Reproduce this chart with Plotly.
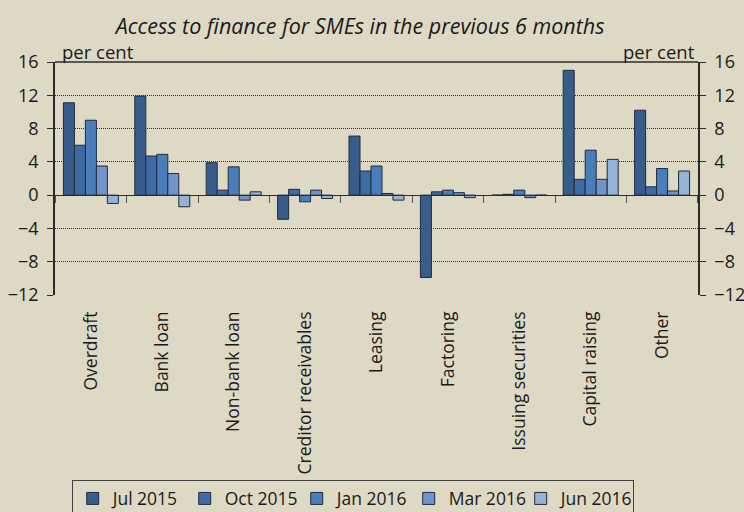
import plotly.graph_objects as go

# survey categories and net balances (per cent)
categories = [
    "Overdraft", "Bank loan", "Non-bank loan", "Creditor receivables", "Leasing",
    "Factoring", "Issuing securities", "Capital raising", "Other",
]
periods = ["Jul 2015", "Oct 2015", "Jan 2016", "Mar 2016", "Jun 2016"]

jul_2015 = [11.1, 11.9, 3.9, -2.9, 7.1, -9.9, 0.0, 15.0, 10.2]
oct_2015 = [6.0, 4.7, 0.6, 0.7, 2.9, 0.4, 0.1, 1.9, 1.0]
jan_2016 = [9.0, 4.9, 3.4, -0.8, 3.5, 0.6, 0.6, 5.4, 3.2]
mar_2016 = [3.5, 2.6, -0.6, 0.6, 0.2, 0.3, -0.3, 1.9, 0.5]
jun_2016 = [-1.0, -1.4, 0.4, -0.4, -0.6, -0.3, 0.0, 4.3, 2.9]

y_ticks = [-12, -8, -4, 0, 4, 8, 12, 16]

BG = "#DDD9C4"
FONT = "Open Sans"
INK = "#1a1a1a"
COLORS = ["#385D8A", "#3F6BA3", "#4A7EBB", "#7394C8", "#95B3D7"]
OUTLINE = "#1E2B3C"

fig = go.Figure()
for name, vals, col in zip(periods, [jul_2015, oct_2015, jan_2016, mar_2016, jun_2016], COLORS):
    fig.add_trace(
        go.Bar(
            x=categories,
            y=vals,
            name=name,
            marker=dict(color=col, line=dict(color=OUTLINE, width=1)),
        )
    )

# invisible helpers so the right axis and the zero-line tick axis get drawn
fig.add_trace(go.Scatter(x=categories, y=[None] * len(categories), yaxis="y2",
                         showlegend=False, hoverinfo="skip"))
fig.add_trace(go.Scatter(x=categories, y=[None] * len(categories), xaxis="x2",
                         showlegend=False, hoverinfo="skip"))

zero_pos = (0 - y_ticks[0]) / (y_ticks[-1] - y_ticks[0])

axis_common = dict(
    range=[y_ticks[0], y_ticks[-1]],
    tickvals=y_ticks,
    zeroline=False,
    showline=True,
    linecolor="#2b2b2b",
    linewidth=1.5,
    ticks="outside",
    ticklen=6,
    tickcolor="#2b2b2b",
    ticklabelstandoff=5,
    tickfont=dict(size=18),
    automargin=False,
)

fig.update_layout(
    width=744,
    height=512,
    paper_bgcolor=BG,
    plot_bgcolor=BG,
    font=dict(family=FONT, size=18, color=INK),
    margin=dict(l=55, r=46, t=62, b=217, autoexpand=False),
    barmode="group",
    bargap=0.23,
    bargroupgap=0,
    title=dict(
        text="<i>Access to finance for SMEs in the previous 6 months</i>",
        font=dict(family=FONT, size=21.5, color=INK),
        x=0.484, xanchor="center", y=0.948, yanchor="middle",
        automargin=False,
    ),
    xaxis=dict(
        type="category",
        categoryorder="array",
        categoryarray=categories,
        tickangle=-90,
        ticks="",
        showline=False,
        showgrid=False,
        zeroline=False,
        ticklabelstandoff=12,
        tickfont=dict(size=17.5),
        automargin=False,
    ),
    xaxis2=dict(
        type="category",
        categoryorder="array",
        categoryarray=categories,
        overlaying="x",
        anchor="free",
        position=zero_pos,
        side="bottom",
        showline=True,
        linecolor="#2b2b2b",
        linewidth=1,
        ticks="outside",
        tickson="boundaries",
        ticklen=7,
        tickcolor="#555555",
        showticklabels=False,
        showgrid=False,
        zeroline=False,
        automargin=False,
    ),
    yaxis=dict(showgrid=True, gridcolor="#2f2f2f", griddash="1px,1px", gridwidth=1, **axis_common),
    yaxis2=dict(overlaying="y", side="right", showgrid=False, **axis_common),
    legend=dict(
        orientation="h",
        x=0.463, xanchor="center",
        y=-0.792, yanchor="top",
        bgcolor=BG,
        bordercolor="#404040",
        borderwidth=1,
        font=dict(size=17.5),
        entrywidth=67,
        itemwidth=30,
        traceorder="normal",
    ),
    showlegend=True,
)

# top border of the plot area
fig.add_shape(type="line", xref="paper", yref="paper", x0=0, x1=1, y0=1, y1=1,
              line=dict(color="#2b2b2b", width=1.5))

fig.add_annotation(text="per cent", xref="paper", yref="paper", x=0.008, y=1.0,
                   xanchor="left", yanchor="bottom", showarrow=False, yshift=-4,
                   font=dict(size=18.5))
fig.add_annotation(text="per cent", xref="paper", yref="paper", x=0.998, y=1.0,
                   xanchor="right", yanchor="bottom", showarrow=False, yshift=-4,
                   font=dict(size=18.5))

fig.write_html("out.html", config={"displayModeBar": False},
               post_script="document.body.style.margin='0';")
